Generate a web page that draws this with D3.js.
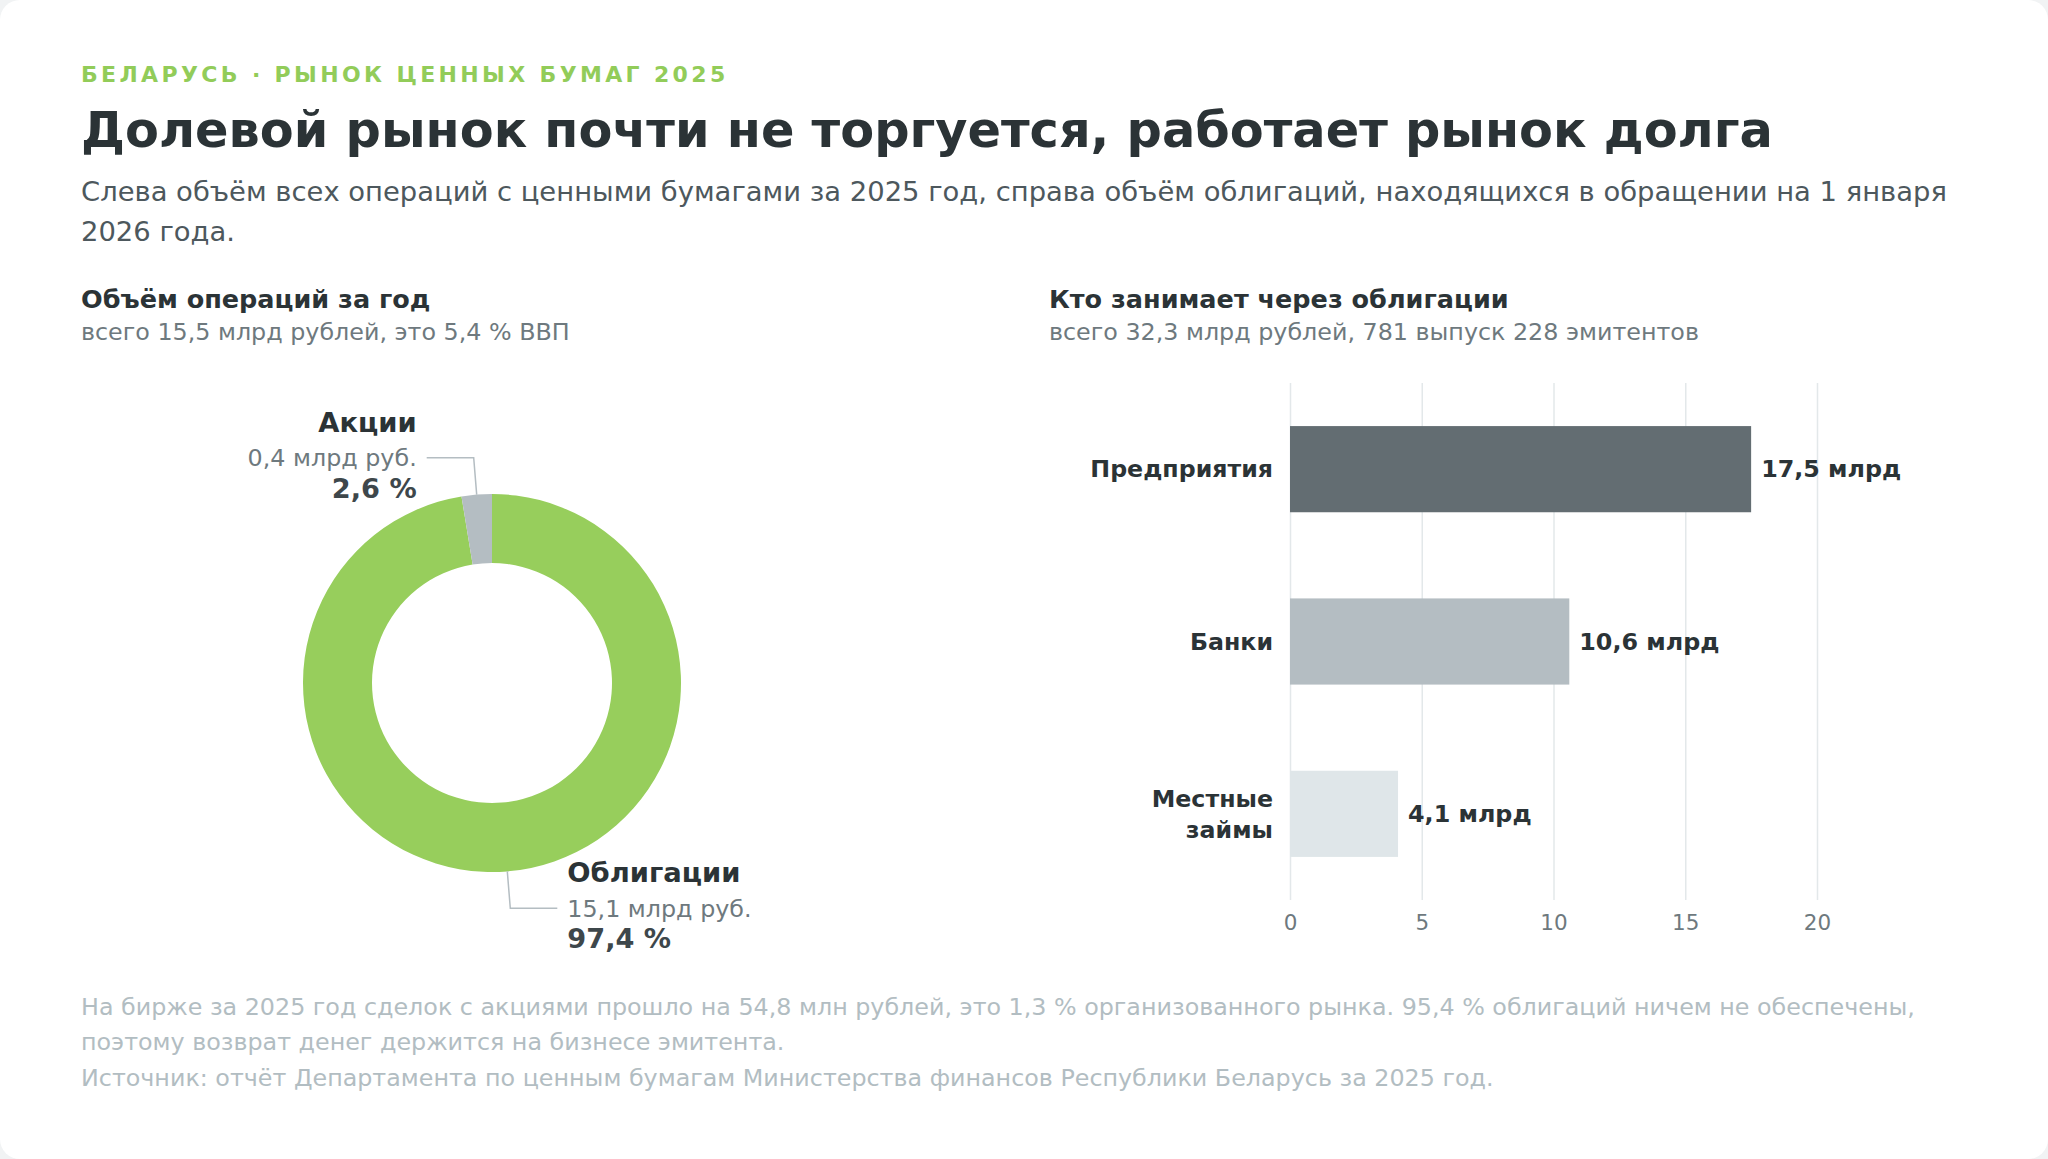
<!DOCTYPE html>
<html lang="ru">
<head>
<meta charset="utf-8">
<script src="https://cdn.jsdelivr.net/npm/d3@7"></script>
<style>
  html, body { margin: 0; padding: 0; background: #f1f3f4; }
  svg { display: block; font-family: "DejaVu Sans", sans-serif; }
</style>
</head>
<body>
<div id="root"></div>
<script>
// donut: объём операций за год, млрд руб.
const shareLabels = ["Облигации", "Акции"]
const shareValues = [15.1, 0.4]
const shareColors = ["#97ce5c", "#b4bdc2"]

// bars: кто занимает через облигации, млрд руб.
const issuerLabels = ["Предприятия", "Банки", "Местные займы"]
const issuerValues = [17.5, 10.6, 4.1]
const issuerColors = ["#636d72", "#b4bdc2", "#dfe6e9"]
const xTicks = [0, 5, 10, 15, 20]

const subtitleLines = [
  "Слева объём всех операций с ценными бумагами за 2025 год, справа объём облигаций, находящихся в обращении на 1 января",
  "2026 года.",
]
const footerLines = [
  "На бирже за 2025 год сделок с акциями прошло на 54,8 млн рублей, это 1,3 % организованного рынка. 95,4 % облигаций ничем не обеспечены,",
  "поэтому возврат денег держится на бизнесе эмитента.",
  "Источник: отчёт Департамента по ценным бумагам Министерства финансов Республики Беларусь за 2025 год.",
]

const fmt1 = v => d3.format(".1f")(v).replace(".", ",")

function draw() {
  const width = 2048
  const height = 1159
  const left = 81

  const root = d3.select("#root")
  root.selectAll("*").remove()

  const svg = root.append("svg")
    .attr("width", width)
    .attr("height", height)

  svg.append("rect")
    .attr("width", width)
    .attr("height", height)
    .attr("rx", 20)
    .attr("fill", "#ffffff")

  // header
  svg.append("text")
    .attr("x", left).attr("y", 82)
    .attr("fill", "#92cc59")
    .attr("font-size", 22).attr("font-weight", "bold")
    .attr("letter-spacing", 3.35)
    .text("БЕЛАРУСЬ · РЫНОК ЦЕННЫХ БУМАГ 2025")

  svg.append("text")
    .attr("x", left).attr("y", 147)
    .attr("fill", "#2b3336")
    .attr("font-size", 49.4).attr("font-weight", "bold")
    .text("Долевой рынок почти не торгуется, работает рынок долга")

  svg.append("g").selectAll("text")
    .data(subtitleLines)
    .join("text")
    .attr("x", left)
    .attr("y", (d, i) => 201 + i * 40)
    .attr("fill", "#4d585d")
    .attr("font-size", 27.4)
    .text(d => d)

  // panel headings
  const panels = [
    { x: left, title: "Объём операций за год", sub: "всего 15,5 млрд рублей, это 5,4 % ВВП" },
    { x: 1049, title: "Кто занимает через облигации", sub: "всего 32,3 млрд рублей, 781 выпуск 228 эмитентов" },
  ]
  const heads = svg.append("g").selectAll("g").data(panels).join("g")
  heads.append("text")
    .attr("x", d => d.x).attr("y", 308)
    .attr("fill", "#2b3336")
    .attr("font-size", 25.5).attr("font-weight", "bold")
    .text(d => d.title)
  heads.append("text")
    .attr("x", d => d.x).attr("y", 340)
    .attr("fill", "#6e797e")
    .attr("font-size", 23.8)
    .text(d => d.sub)

  // 1. donut
  const cx = 492, cy = 683
  const outerR = 189, innerR = 120
  const total = d3.sum(shareValues)
  const shares = shareLabels.map((name, i) => ({ name, value: shareValues[i], color: shareColors[i] }))

  const pie = d3.pie().sort(null).value(d => d.value)
  const arcs = pie(shares)
  const arc = d3.arc().innerRadius(innerR).outerRadius(outerR)
  const edgeArc = d3.arc().innerRadius(outerR).outerRadius(outerR)
  const elbowArc = d3.arc().innerRadius(226).outerRadius(226)

  const donut = svg.append("g")
    .attr("transform", `translate(${cx},${cy})`)

  donut.selectAll("path")
    .data(arcs)
    .join("path")
    .attr("d", arc)
    .attr("fill", d => d.data.color)

  const midAngle = d => (d.startAngle + d.endAngle) / 2
  const side = d => (midAngle(d) < Math.PI ? 1 : -1)
  const lineEnd = d => {
    const p = elbowArc.centroid(d)
    return [p[0] + side(d) * 47, p[1]]
  }

  donut.selectAll("polyline")
    .data(arcs)
    .join("polyline")
    .attr("points", d => [edgeArc.centroid(d), elbowArc.centroid(d), lineEnd(d)].map(p => p.join(",")).join(" "))
    .attr("fill", "none")
    .attr("stroke", "#b4bdc2")
    .attr("stroke-width", 1.5)

  const labels = donut.selectAll("g.label")
    .data(arcs)
    .join("g")
    .attr("class", "label")
    .attr("transform", d => {
      const p = lineEnd(d)
      return `translate(${p[0] + side(d) * 10},${p[1]})`
    })
    .attr("text-anchor", d => (side(d) > 0 ? "start" : "end"))

  labels.append("text")
    .attr("y", -26)
    .attr("fill", "#2b3336")
    .attr("font-size", 27.4).attr("font-weight", "bold")
    .text(d => d.data.name)
  labels.append("text")
    .attr("y", 0).attr("dy", "0.35em")
    .attr("fill", "#6e797e")
    .attr("font-size", 23.8)
    .text(d => `${fmt1(d.data.value)} млрд руб.`)
  labels.append("text")
    .attr("y", 40)
    .attr("fill", "#3e474b")
    .attr("font-size", 27.2).attr("font-weight", "bold")
    .text(d => `${fmt1(d.data.value / total * 100)} %`)

  // 2. bars
  const x0 = 1290, x1 = 1817
  const yTop = 383, yBottom = 900

  const xScale = d3.scaleLinear()
    .domain([0, 20])
    .range([x0, x1])

  const yScale = d3.scaleBand()
    .domain(issuerLabels)
    .range([yTop, yBottom])
    .paddingInner(0.5)
    .paddingOuter(0.25)

  const xAxis = svg.append("g")
    .attr("transform", `translate(0,${yBottom})`)
    .call(d3.axisBottom(xScale)
      .tickValues(xTicks)
      .tickSize(-(yBottom - yTop))
      .tickPadding(15))
  xAxis.select(".domain").remove()
  xAxis.selectAll(".tick line")
    .attr("stroke", "#e3e8ea")
    .attr("stroke-width", 1.5)
  xAxis.selectAll(".tick text")
    .attr("fill", "#6e797e")
    .attr("font-size", 21.5)
    .attr("font-family", "DejaVu Sans, sans-serif")

  const issuers = issuerLabels.map((name, i) => ({ name, value: issuerValues[i], color: issuerColors[i] }))

  const barGroups = svg.append("g").selectAll("g")
    .data(issuers)
    .join("g")

  barGroups.append("rect")
    .attr("x", xScale(0))
    .attr("y", d => yScale(d.name))
    .attr("width", d => xScale(d.value) - xScale(0))
    .attr("height", yScale.bandwidth())
    .attr("fill", d => d.color)

  barGroups.append("text")
    .attr("x", d => xScale(d.value) + 10)
    .attr("y", d => yScale(d.name) + yScale.bandwidth() / 2)
    .attr("dy", "0.35em")
    .attr("fill", "#2b3336")
    .attr("font-size", 23.8).attr("font-weight", "bold")
    .text(d => `${fmt1(d.value)} млрд`)

  const catText = barGroups.append("text")
    .attr("x", x0 - 17)
    .attr("y", d => yScale(d.name) + yScale.bandwidth() / 2)
    .attr("text-anchor", "end")
    .attr("fill", "#2b3336")
    .attr("font-size", 23.7).attr("font-weight", "bold")

  catText.selectAll("tspan")
    .data(d => {
      const words = d.name.split(" ")
      return words.map((w, i) => ({ w, i, n: words.length }))
    })
    .join("tspan")
    .attr("x", x0 - 17)
    .attr("dy", d => (d.i === 0 ? `${0.35 - (d.n - 1) * 0.65}em` : "1.3em"))
    .text(d => d.w)

  // footer
  svg.append("g").selectAll("text")
    .data(footerLines)
    .join("text")
    .attr("x", left)
    .attr("y", (d, i) => [1015, 1050, 1086][i])
    .attr("fill", "#b2bdc2")
    .attr("font-size", 23.8)
    .text(d => d)
}

draw()
</script>
</body>
</html>
